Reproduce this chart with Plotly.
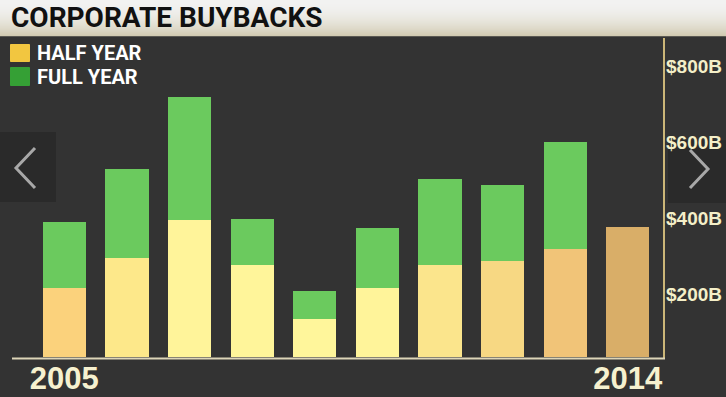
import plotly.graph_objects as go

years = [2005, 2006, 2007, 2008, 2009, 2010, 2011, 2012, 2013, 2014]
half_year = [182, 261, 361, 242, 100, 182, 242, 253, 284, 342]
full_year = [355, 495, 684, 363, 174, 339, 468, 453, 566, None]
half_colors = ["#fbd27c", "#fde88a", "#fff49a", "#fff59a", "#fff69b", "#fff49a",
               "#fbe58c", "#f7d883", "#f1c478", "#d9ae68"]
full_color = "#6bca5e"
tick_vals = [200, 400, 600, 800]
tick_text = ["$200B", "$400B", "$600B", "$800B"]
x_labels = ["2005", "2014"]

W, H = 726, 397
L, R, T, B = 33, 67, 40, 40
PW, PH = W - L - R, H - T - B

def px(x):
    return (x - L) / PW

def py(y):
    return (H - B - y) / PH

xs = list(range(len(years)))
extra = [(f - h) if f is not None else None for f, h in zip(full_year, half_year)]

fig = go.Figure()
fig.add_trace(go.Bar(x=xs, y=half_year, marker=dict(color=half_colors, line=dict(width=0)),
                     width=0.69, name="HALF YEAR", showlegend=False))
fig.add_trace(go.Bar(x=xs, y=extra, marker=dict(color=full_color, line=dict(width=0)),
                     width=0.69, name="FULL YEAR", showlegend=False))

shapes = []
# title bar: smooth vertical gradient approximated by thin bands
top_c = (242, 242, 241)
bot_c = (210, 203, 178)
n = 36
for i in range(n):
    t = (i / (n - 1)) ** 2
    c = tuple(round(top_c[k] + (bot_c[k] - top_c[k]) * t) for k in range(3))
    shapes.append(dict(type="rect", xref="paper", yref="paper", x0=px(0), x1=px(W),
                       y0=py(i + 1.2), y1=py(i), fillcolor="rgb(%d,%d,%d)" % c,
                       line=dict(width=0), layer="below"))
# nav boxes
shapes.append(dict(type="rect", xref="paper", yref="paper", x0=px(0), x1=px(56),
                   y0=py(202), y1=py(132), fillcolor="#2a2a2a", line=dict(width=0), layer="below"))
shapes.append(dict(type="rect", xref="paper", yref="paper", x0=px(668), x1=px(W),
                   y0=py(203), y1=py(140), fillcolor="#2a2a2a", line=dict(width=0), layer="below"))
def chev(pts):
    return "M " + " L ".join(f"{px(a)},{py(b)}" for a, b in pts)
shapes.append(dict(type="path", xref="paper", yref="paper", path=chev([(35, 148), (16, 168), (35, 188)]),
                   line=dict(color="#a8a8a8", width=3)))
shapes.append(dict(type="path", xref="paper", yref="paper", path=chev([(690, 150), (708, 169), (690, 188)]),
                   line=dict(color="#a8a8a8", width=3)))
# frame lines
shapes.append(dict(type="line", xref="paper", yref="paper", x0=px(664), x1=px(664),
                   y0=py(359), y1=py(38), line=dict(color="#cbb678", width=2)))
shapes.append(dict(type="line", xref="paper", yref="paper", x0=px(12), x1=px(665),
                   y0=py(358.5), y1=py(358.5), line=dict(color="#ddd5b8", width=2)))
# legend squares
shapes.append(dict(type="rect", xref="paper", yref="paper", x0=px(10.5), x1=px(29.5),
                   y0=py(61.5), y1=py(44.5), fillcolor="#f2c640", line=dict(color="#f2c640", width=1)))
shapes.append(dict(type="rect", xref="paper", yref="paper", x0=px(10.5), x1=px(29.5),
                   y0=py(85.5), y1=py(67.5), fillcolor="#35a035", line=dict(color="#35a035", width=1)))

narrow = "Roboto, Liberation Sans, Arial, sans-serif"
font_fam = "Liberation Sans, Arial, sans-serif"
annotations = [
    dict(text="CORPORATE BUYBACKS", xref="paper", yref="paper", x=px(9), y=py(18),
         xanchor="left", yanchor="middle", showarrow=False,
         font=dict(family=narrow, size=28, color="#111111", weight="bold")),
    dict(text="HALF YEAR", xref="paper", yref="paper", x=px(35), y=py(53),
         xanchor="left", yanchor="middle", showarrow=False,
         font=dict(family=narrow, size=20, color="#ffffff", weight="bold")),
    dict(text="FULL YEAR", xref="paper", yref="paper", x=px(35), y=py(77),
         xanchor="left", yanchor="middle", showarrow=False,
         font=dict(family=narrow, size=20, color="#ffffff", weight="bold")),
]

fig.update_layout(
    width=W, height=H, margin=dict(l=L, r=R, t=T, b=B, autoexpand=False),
    paper_bgcolor="#333333", plot_bgcolor="#333333",
    barmode="stack", bargap=0.3, showlegend=False,
    shapes=shapes, annotations=annotations,
    xaxis=dict(range=[-0.5, 9.5], tickmode="array", tickvals=[0, 9], ticktext=x_labels,
               showgrid=False, zeroline=False, showline=False, ticks="", automargin=False,
               tickfont=dict(family=font_fam, size=31, color="#f6f1cf", weight="bold"),
               ticklabelstandoff=0),
    yaxis=dict(range=[0, 834], side="right", tickmode="array", tickvals=tick_vals, ticktext=tick_text,
               showgrid=False, zeroline=False, showline=False, ticks="", automargin=False,
               tickfont=dict(family=font_fam, size=19, color="#f4efc8", weight="bold"),
               ticklabelshift=13, ticklabelstandoff=6),
)

fig.write_html("out.html")
